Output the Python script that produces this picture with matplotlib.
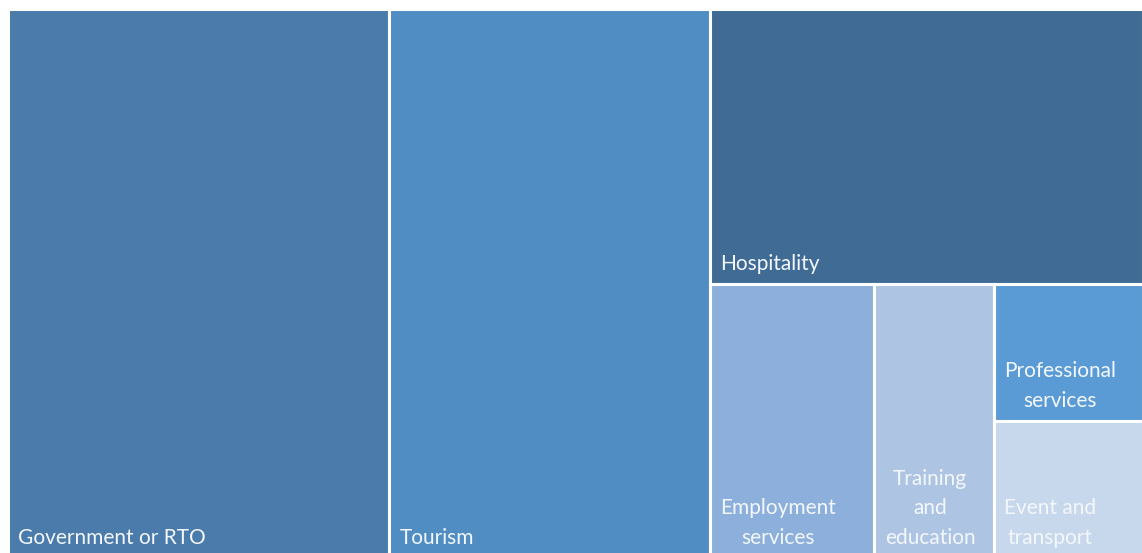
import matplotlib
matplotlib.use("Agg")
import matplotlib.pyplot as plt
from matplotlib.patches import Rectangle

# Respondent counts by sector
categories = ["Government or RTO", "Tourism", "Hospitality", "Employment\nservices",
              "Training\nand\neducation", "Professional\nservices", "Event and\ntransport"]
counts = [51, 43, 29, 11, 8, 5, 5]
colors = ["#4a7bab", "#508dc3", "#3f6b95", "#8cb0db", "#adc5e3", "#5b9bd5", "#c7d7ec"]

# Strip structure of the treemap: (orientation, number of tiles in the strip)
strips = [("col", 1), ("col", 1), ("row", 1), ("col", 1), ("col", 1), ("col", 2)]

W, H = 1142, 553
fig = plt.figure(figsize=(W / 100, H / 100), dpi=100)
ax = fig.add_axes([0, 0, 1, 1])
ax.set_xlim(0, W)
ax.set_ylim(H, 0)
ax.axis("off")

# Plot region (pixels)
x0, y0, x1, y1 = 8, 9, 1143, 558


def layout(values, spec, x0, y0, x1, y1):
    rects = []
    remaining = list(values)
    total = float(sum(remaining))
    for orient, n in spec:
        group = remaining[:n]
        remaining = remaining[n:]
        share = sum(group) / total
        if orient == "col":
            w = (x1 - x0) * share
            cy = y0
            for v in group:
                h = (y1 - y0) * v / sum(group)
                rects.append((x0, cy, w, h))
                cy += h
            x0 += w
        else:
            h = (y1 - y0) * share
            cx = x0
            for v in group:
                w = (x1 - x0) * v / sum(group)
                rects.append((cx, y0, w, h))
                cx += w
            y0 += h
        total -= sum(group)
    return rects


rects = layout(counts, strips, x0, y0, x1, y1)

for (rx, ry, rw, rh), label, c in zip(rects, categories, colors):
    ax.add_patch(Rectangle((rx, ry), rw, rh, facecolor=c, edgecolor="white",
                           linewidth=2.2))
    ax.text(rx + 10.5, ry + rh - 10, label, ha="left", va="bottom",
            multialignment="center", color="#f4f7fb", fontsize=15,
            family="Lato", linespacing=1.6)

fig.savefig("out.png", dpi=100, facecolor="white")
